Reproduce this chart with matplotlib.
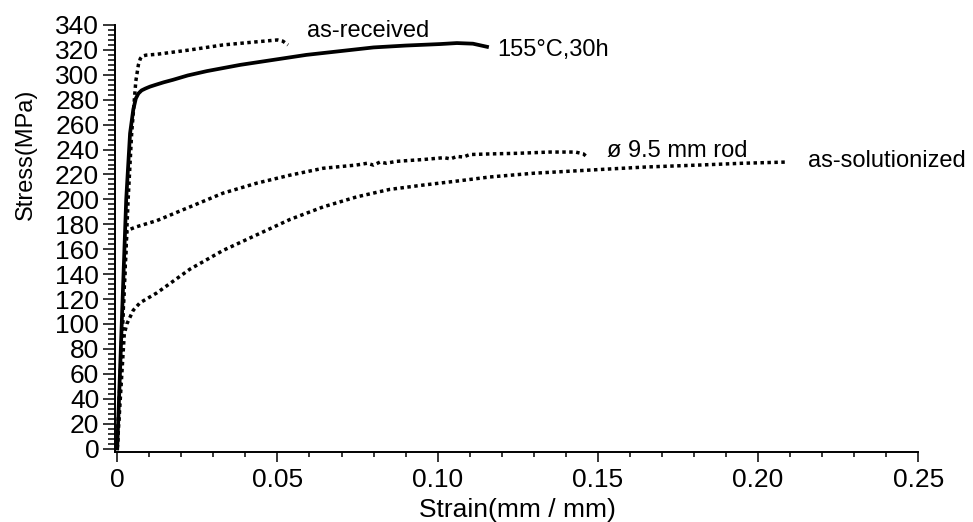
import matplotlib
matplotlib.use("Agg")
import numpy as np
import matplotlib.pyplot as plt
from matplotlib.ticker import MultipleLocator

plt.rcParams['font.family'] = ['Liberation Sans', 'DejaVu Sans']

# as-received (dotted)
recv_strain = [0, 0.0034, 0.0045, 0.0058, 0.0066, 0.0072, 0.0078, 0.009, 0.0124, 0.0227, 0.033, 0.0435, 0.05, 0.0517, 0.0533]
recv_stress = [0, 200, 253, 295, 308, 313, 315, 315.8, 316.5, 320, 324, 326.5, 328, 327, 324]

# 155C, 30h (solid)
aged_strain = [0, 0.0028, 0.004, 0.005, 0.0058, 0.0066, 0.0076, 0.0088, 0.0102, 0.012, 0.0145, 0.0174, 0.022,
               0.028, 0.0384, 0.0487, 0.059, 0.0695, 0.08, 0.09, 0.1008, 0.106, 0.111, 0.1154]
aged_stress = [0, 200, 253, 272, 281, 285, 287.5, 289, 290.5, 292, 294, 296, 299.5,
               303, 308, 312, 316, 319, 322, 323.5, 324.7, 325.5, 325, 322.5]

# 9.5 mm rod (dotted)
rod_strain = [0, 0.0015, 0.003, 0.006, 0.0124, 0.0227, 0.033, 0.0435, 0.054, 0.0643, 0.0747, 0.078,
              0.080, 0.082, 0.084, 0.087, 0.0955, 0.102, 0.104, 0.106, 0.108, 0.110, 0.1163, 0.125,
              0.135, 0.143, 0.1455, 0.1466]
rod_stress = [0, 95, 175, 178, 183, 194, 205, 213, 219.5, 225, 227.6, 229,
              227.5, 230, 229, 230.5, 232, 233.5, 232.5, 234.5, 234, 236, 236.5, 237,
              238, 238, 236.5, 234]

# as-solutionized (dotted)
sol_strain = [0, 0.0022, 0.003, 0.005, 0.0071, 0.0124, 0.0227, 0.033, 0.0435, 0.054, 0.0643, 0.0747,
              0.085, 0.0955, 0.106, 0.1163, 0.13, 0.1507, 0.165, 0.182, 0.195, 0.2093]
sol_stress = [0, 92, 100, 111, 117, 125, 144, 159, 171.5, 184, 194, 202,
              208, 211.5, 214.7, 218, 221, 224, 226, 227.6, 229, 230]

fig = plt.figure(figsize=(9.73, 5.22), dpi=100)
ax = fig.add_axes([115/973, 70/522, (918.3-115)/973, (452-25)/522])

dots = (0, (1, 1))
ax.plot(recv_strain, recv_stress, color='black', lw=2.5, ls=dots)
ax.plot(aged_strain, aged_stress, color='black', lw=2.7)
ax.plot(rod_strain, rod_stress, color='black', lw=2.5, ls=dots)
ax.plot(sol_strain, sol_stress, color='black', lw=2.5, ls=dots)

ax.text(0.0592, 330, 'as-received', fontsize=17, va='baseline')
ax.text(0.1185, 315, '155°C,30h', fontsize=17, va='baseline')
ax.text(0.1528, 234, 'ø 9.5 mm rod', fontsize=17, va='baseline')
ax.text(0.2156, 225.7, 'as-solutionized', fontsize=17, va='baseline', clip_on=False)

ax.set_xlim(-0.0007, 0.25)
ax.set_ylim(-2.8, 340)
ax.xaxis.set_major_locator(MultipleLocator(0.05))
ax.xaxis.set_minor_locator(MultipleLocator(0.01))
ax.yaxis.set_major_locator(MultipleLocator(20))
ax.yaxis.set_minor_locator(MultipleLocator(4))
ax.set_xticks([0, 0.05, 0.10, 0.15, 0.20, 0.25])
ax.set_xticklabels(['0', '0.05', '0.10', '0.15', '0.20', '0.25'])

ax.spines['top'].set_visible(False)
ax.spines['right'].set_visible(False)
for s in ['left', 'bottom']:
    ax.spines[s].set_linewidth(1.4)

ax.tick_params(axis='y', which='major', length=8.4, width=1.1, labelsize=19, pad=3)
ax.tick_params(axis='y', which='minor', length=4.8, width=1.1)
ax.tick_params(axis='x', which='major', length=7.2, width=1.1, labelsize=19, pad=4)
ax.tick_params(axis='x', which='minor', length=3.6, width=1.1)

fig.text(26/973, 1-154/522, 'Stress(MPa)', rotation=90, fontsize=17, ha='center', va='center')
fig.text(517/973, 5/522, 'Strain(mm / mm)', fontsize=19, ha='center', va='baseline')

fig.savefig('out.png', dpi=100)
